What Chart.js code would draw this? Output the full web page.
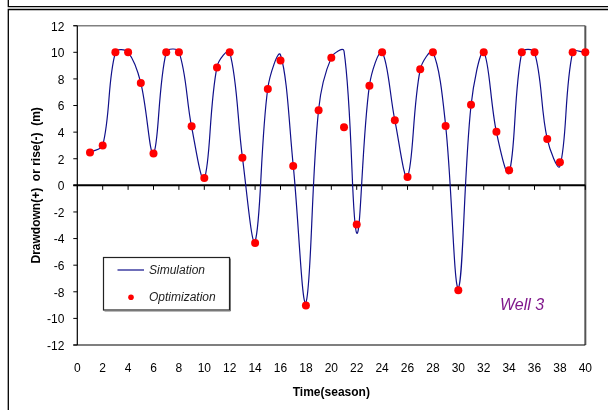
<!DOCTYPE html>
<html>
<head>
<meta charset="utf-8">
<script src="https://cdn.jsdelivr.net/npm/chart.js@4.4.1/dist/chart.umd.min.js"></script>
<style>
html,body{margin:0;padding:0;background:#fff;}
#wrap{width:608px;height:410px;position:relative;}
</style>
</head>
<body>
<div id="wrap"><canvas id="c" width="608" height="410"></canvas></div>
<script>
// ---- data ----
const seasons = [1,2,3,4,5,6,7,8,9,10,11,12,13,14,15,16,17,18,19,20,21,22,23,24,25,26,27,28,29,30,31,32,33,34,35,36,37,38,39,40];
const simulation = [2.5,3.0,10,10,7.7,2.4,10,10.05,4.4,0.5,8.9,10,2.1,-4.2,7.3,9.8,1.5,-8.8,5.7,9.6,10.1,-3.6,7.5,10,4.9,0.65,8.7,10,4.5,-7.7,6.0,10,4.0,0.95,10,10,3.5,1.45,10,10];
const optimization = [2.46,2.99,10,10,7.7,2.39,10,10,4.44,0.55,8.86,10,2.08,-4.34,7.25,9.39,1.46,-9.04,5.65,9.59,4.37,-2.94,7.48,10,4.9,0.63,8.73,10,4.47,-7.88,6.05,10,4.02,1.13,10,10,3.49,1.73,10,10];
const xTickValues = [0,2,4,6,8,10,12,14,16,18,20,22,24,26,28,30,32,34,36,38,40];
const yTickValues = [-12,-10,-8,-6,-4,-2,0,2,4,6,8,10,12];
const seriesNames = ['Simulation','Optimization'];
const annotationText = 'Well 3';
const xTitle = 'Time(season)';
const yTitle = 'Drawdown(+)  or rise(-)  (m)';

const FONT = '"Liberation Sans", Arial, sans-serif';

const decor = {
  id: 'decor',
  beforeDraw(chart) {
    const ctx = chart.ctx;
    ctx.save();
    ctx.fillStyle = '#fff';
    ctx.fillRect(0, 0, chart.width, chart.height);
    ctx.restore();
  },
  beforeDatasetsDraw(chart) {
    const {ctx, chartArea: a, scales: {x, y}} = chart;
    ctx.save();
    // outer frames
    ctx.strokeStyle = '#000';
    ctx.lineWidth = 1.3;
    ctx.beginPath(); ctx.moveTo(8.3, 0); ctx.lineTo(8.3, 6.7); ctx.lineTo(608, 6.7); ctx.stroke();
    ctx.beginPath(); ctx.moveTo(608, 9.5); ctx.lineTo(8.3, 9.5); ctx.lineTo(8.3, 410); ctx.stroke();
    // plot border
    ctx.lineWidth = 1.6;
    ctx.strokeStyle = '#808080';
    ctx.beginPath(); ctx.moveTo(a.left - 4, a.top); ctx.lineTo(a.right, a.top); ctx.stroke();
    ctx.lineWidth = 2;
    ctx.strokeStyle = '#555';
    ctx.beginPath(); ctx.moveTo(a.right, a.top); ctx.lineTo(a.right, a.bottom); ctx.stroke();
    ctx.lineWidth = 1.2;
    ctx.strokeStyle = '#000';
    ctx.beginPath(); ctx.moveTo(a.left - 4, a.bottom); ctx.lineTo(a.right, a.bottom); ctx.stroke();
    ctx.beginPath(); ctx.moveTo(a.left, a.top); ctx.lineTo(a.left, a.bottom); ctx.stroke();
    // y ticks outward
    ctx.lineWidth = 1;
    yTickValues.forEach(v => {
      const py = y.getPixelForValue(v);
      ctx.beginPath(); ctx.moveTo(a.left - 4, py); ctx.lineTo(a.left, py); ctx.stroke();
    });
    // zero line
    const y0 = y.getPixelForValue(0);
    ctx.lineWidth = 2;
    ctx.beginPath(); ctx.moveTo(a.left - 4, y0); ctx.lineTo(a.right, y0); ctx.stroke();
    ctx.lineWidth = 1;
    xTickValues.forEach(v => {
      const px = x.getPixelForValue(v);
      ctx.beginPath(); ctx.moveTo(px, y0); ctx.lineTo(px, y0 + 4.5); ctx.stroke();
    });
    ctx.restore();
  },
  afterDraw(chart) {
    const {ctx, chartArea: a} = chart;
    const ds = chart.data.datasets;
    ctx.save();
    // legend box
    const lx = 103.5, ly = 257.5, lw = 126, lh = 52.5;
    ctx.fillStyle = '#fff';
    ctx.fillRect(lx, ly, lw, lh);
    ctx.strokeStyle = '#222';
    ctx.lineWidth = 1.2;
    ctx.strokeRect(lx, ly, lw, lh);
    ctx.strokeStyle = '#777';
    ctx.lineWidth = 1;
    ctx.beginPath(); ctx.moveTo(lx + 1, ly + lh + 1); ctx.lineTo(lx + lw + 1, ly + lh + 1); ctx.lineTo(lx + lw + 1, ly + 1); ctx.stroke();
    // simulation entry
    ctx.strokeStyle = ds[0].borderColor;
    ctx.lineWidth = 1.2;
    ctx.beginPath(); ctx.moveTo(117.5, 270); ctx.lineTo(144, 270); ctx.stroke();
    ctx.fillStyle = '#222';
    ctx.font = 'italic 12px ' + FONT;
    ctx.textBaseline = 'middle';
    ctx.textAlign = 'left';
    ctx.fillText(seriesNames[0], 149, 270.5);
    // optimization entry
    ctx.fillStyle = ds[1].backgroundColor;
    ctx.beginPath(); ctx.arc(131, 297.3, 2.8, 0, Math.PI * 2); ctx.fill();
    ctx.fillStyle = '#222';
    ctx.fillText(seriesNames[1], 149, 297.5);
    // annotation
    ctx.fillStyle = '#80188c';
    ctx.font = 'italic 16px ' + FONT;
    ctx.textAlign = 'center';
    ctx.fillText(annotationText, 522, 306);
    ctx.restore();
  }
};

new Chart(document.getElementById('c'), {
  type: 'scatter',
  data: {
    datasets: [
      {
        label: seriesNames[0],
        type: 'line',
        data: seasons.map((s, i) => ({x: s, y: simulation[i]})),
        borderColor: '#10108a',
        backgroundColor: '#10108a',
        borderWidth: 1.2,
        pointRadius: 0,
        pointHoverRadius: 0,
        tension: 0.36,
        fill: false,
        clip: false,
        order: 2
      },
      {
        label: seriesNames[1],
        data: seasons.map((s, i) => ({x: s, y: optimization[i]})),
        backgroundColor: '#ff0000',
        borderColor: '#ff0000',
        borderWidth: 0,
        pointRadius: 4,
        pointHoverRadius: 4,
        showLine: false,
        clip: false,
        order: 1
      }
    ]
  },
  options: {
    responsive: false,
    animation: false,
    devicePixelRatio: 1,
    layout: {padding: {top: 25.7, right: 15.3, left: 0, bottom: 0}},
    plugins: {legend: {display: false}, tooltip: {enabled: false}},
    scales: {
      x: {
        type: 'linear',
        min: 0, max: 40,
        afterFit(s) { s.height = 65; },
        afterBuildTicks(s) { s.ticks = xTickValues.map(v => ({value: v})); },
        grid: {display: false, drawTicks: false},
        border: {display: false},
        ticks: {font: {family: FONT, size: 12}, color: '#000', padding: 16, maxRotation: 0, autoSkip: false},
        title: {display: true, text: xTitle, font: {family: FONT, size: 12, weight: 'bold'}, color: '#000', padding: {top: 0, bottom: 10}}
      },
      y: {
        type: 'linear',
        min: -12, max: 12,
        afterFit(s) { s.width = 77.3; },
        afterBuildTicks(s) { s.ticks = yTickValues.map(v => ({value: v})); },
        grid: {display: false, drawTicks: false},
        border: {display: false},
        ticks: {font: {family: FONT, size: 12}, color: '#000', padding: 13, labelOffset: 1.5, autoSkip: false},
        title: {display: true, text: yTitle, font: {family: FONT, size: 12, weight: 'bold'}, color: '#000', padding: {top: 29.5, bottom: 0}}
      }
    }
  },
  plugins: [decor]
});
</script>
</body>
</html>
